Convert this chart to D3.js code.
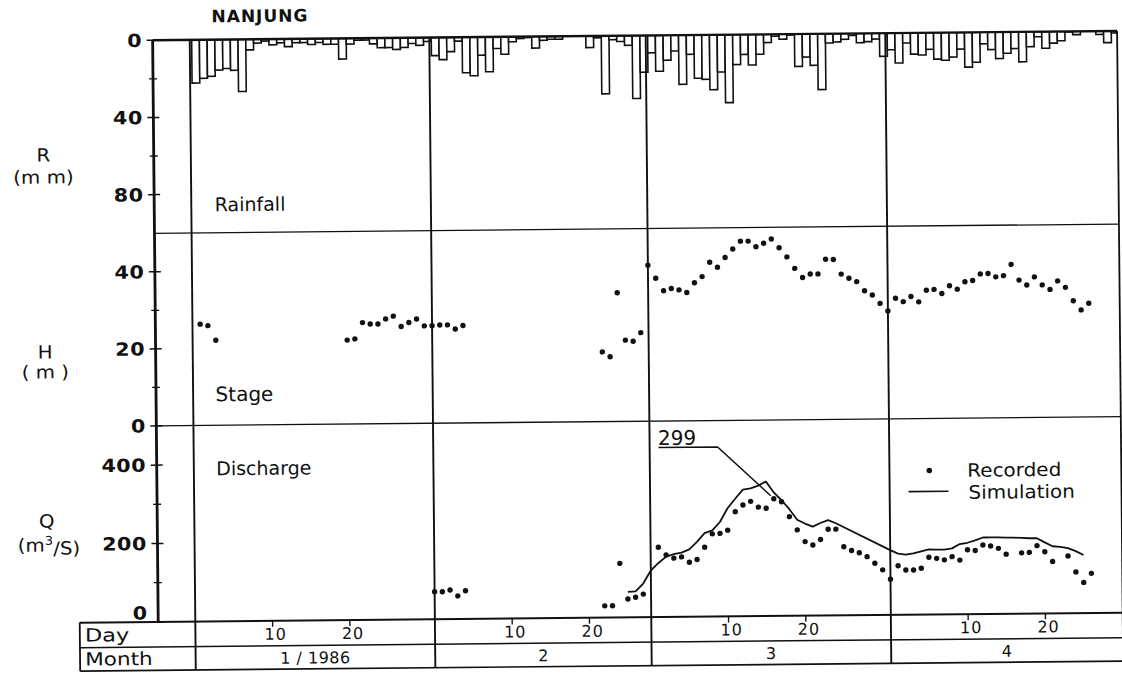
<!DOCTYPE html>
<html>
<head>
<meta charset="utf-8">
<script src="https://cdn.jsdelivr.net/npm/d3@7"></script>
<style>
  html, body { margin: 0; padding: 0; background: #fff; }
  svg { display: block; }
  text { font-family: "DejaVu Sans", sans-serif; fill: #111; }
</style>
</head>
<body>
<svg id="chart" width="1122" height="674"></svg>
<script>
// ---- Nanjung station, January–April 1986 ----

// Daily rainfall R (mm), one value per day of each month
const rainJan = [22.4, 20, 19, 15.8, 15, 16, 27, 5.5, 2, 1, 3, 2, 4, 2, 2, 3, 2, 3, 3, 10.7, 3, 1, 1, 3, 5, 5, 6, 5, 3, 4, 2];
const rainFeb = [9.4, 11.5, 7.4, 2, 18.4, 20, 9.4, 18, 6, 9, 2.6, 1, 0.5, 6, 2, 1.5, 1.5, 0, 0, 0, 6, 1, 30, 2, 3, 5, 32.6, 19];
const rainMar = [9, 18.6, 12.9, 8.2, 25.5, 10, 22.4, 23, 28.4, 19.3, 35.2, 15.5, 10.3, 15.8, 10.3, 4.3, 1, 2.6, 0.5, 16.8, 12, 16.3, 28.9, 4.8, 4.3, 3, 1, 4.8, 4.3, 3, 12];
const rainApr = [8.6, 15.5, 5.2, 11, 11.5, 8.6, 13.7, 14.3, 12.7, 8.6, 18, 15.5, 6, 9, 13.7, 11, 8.6, 15.5, 7.7, 2.6, 8.6, 6, 4.8, 0.3, 1.7, 0, 0, 1.7, 6, 1];

// Daily stage H (m); null = no reading
const _ = null;
const stageJan = [26.3, 25.9, 22.1, _, _, _, _, _, _, _, _, _, _, _, _, _, _, _, _, 21.8, 22.1, 26.3, 25.9, 25.9, 27.2, 27.9, 25.2, 26.2, 27.1, 25.3, 25.3];
const stageFeb = [25.5, 25.5, 24.4, 25.3, _, _, _, _, _, _, _, _, _, _, _, _, _, _, _, _, _, 18.1, 16.8, 33.4, 21.1, 20.8, 23.0, 40.5];
const stageMar = [37.1, 33.8, 34.4, 34.0, 33.3, 35.8, 37.4, 41.1, 39.8, 42.3, 44.5, 46.5, 46.5, 45.0, 45.9, 47.0, 44.7, 42.3, 39.3, 36.9, 37.8, 37.8, 41.6, 41.5, 37.7, 36.6, 35.7, 33.3, 32.2, 30.0, 28.0];
const stageApr = [31.3, 30.4, 31.7, 30.3, 33.3, 33.5, 32.4, 34.4, 33.5, 35.4, 35.7, 37.4, 37.5, 36.6, 36.9, 39.8, 35.7, 34.4, 36.5, 34.4, 33.2, 35.4, 33.7, 30.2, 27.8, 29.5, _, _, _, _];

// Recorded discharge Q (m3/s)
const qJan = [_, _, _, _, _, _, _, _, _, _, _, _, _, _, _, _, _, _, _, _, _, _, _, _, _, _, _, _, _, _, 70];
const qFeb = [70, 74, 59, 72, _, _, _, _, _, _, _, _, _, _, _, _, _, _, _, _, _, 30, 30, 138, 47, 51, 59, _];
const qMar = [178, 158, 150, 153, 139, 146, 177, 211, 212, 220, 267, 284, 293, 278, 275, 299, 291, 253, 219, 189, 180, 194, 220, 220, 175, 165, 159, 149, 132, 115, 91];
const qApr = [125, 114, 114, 118, 146, 143, 139, 147, 138, 164, 162, 176, 173, 167, 152, _, 155, 156, 173, 157, 132, _, 146, 105, 78, 101, _, _, _, _];

// Simulated discharge Q (m3/s)
const simJan = [];
const simFeb = [_, _, _, _, _, _, _, _, _, _, _, _, _, _, _, _, _, _, _, _, _, _, _, _, 65, 66, 86, 119];
const simMar = [138, 154, 160, 164, 172, 191, 213, 220, 241, 276, 300, 323, 326, 333, 343, 315, 295, 272, 245, 235, 227, 236, 243, 235, _, _, _, _, _, _, 165];
const simApr = [156, 153, 156, 161, 166, 165, 165, 168, 179, 182, 188, 195, 195, 195, 194, 194, 193, 192, 192, 181, 171, 169, 166, 158, 148, _, _, _, _, _];

// Calendar and axis labels
const monthStart = [0, 31, 59, 90, 120];     // day offsets from 1 Jan
const monthLabels = ["1 / 1986", "2", "3", "4"];
const dayTicks = [10, 20];
const rainTicks = [0, 40, 80], rainMinor = [20, 60];
const stageTicks = [0, 20, 40], stageMinor = [10, 30];
const qTicks = [0, 200, 400], qMinor = [100, 300];
const peakValue = 299, peakDay = 75;         // labelled recorded peak (16 March)

// Flatten month arrays into {n: day number from 1 Jan, v}
function daily(months) {
  return months.flatMap((arr, m) => arr.map((v, i) => ({ n: monthStart[m] + i + 1, v })))
               .filter(d => d.v != null);
}

// ---- scales ----
const X0 = 155.5, X1 = 1120;
const x = d3.scaleLinear().domain([-4.8, 120]).range([X0, X1]);
const yR = d3.scaleLinear().domain([0, 100]).range([36.3, 229.4]);
const yH = d3.scaleLinear().domain([0, 50]).range([422, 229.4]);
const yQ = d3.scaleLinear().domain([0, 500]).range([618, 422]);
const TOP = yR(0), BOT = yQ(0);
const TB_MID = 643, TB_BOT = 666.5, TB_LEFT = 77;
const INK = "#111";

const svg = d3.select("#chart");
svg.append("defs").append("clipPath").attr("id", "plotClip")
  .append("rect").attr("x", X0).attr("y", TOP).attr("width", X1 - X0).attr("height", yR(100) - TOP);

// the sheet sits very slightly tilted
const root = svg.append("g").attr("transform", "rotate(-0.55 561 337)");

function label(sel, px, py, str, o = {}) {
  const g = sel.append("g").attr("transform", `translate(${px},${py}) scale(${o.sx || 1},1)`);
  return g.append("text")
    .attr("font-size", o.size || 18)
    .attr("font-weight", o.weight || "normal")
    .attr("text-anchor", o.anchor || "start")
    .attr("letter-spacing", o.ls || 0)
    .attr("dy", o.dy || 0)
    .text(str);
}
function hline(x1, x2, y, w) {
  root.append("line").attr("x1", x1).attr("x2", x2).attr("y1", y).attr("y2", y)
    .attr("stroke", INK).attr("stroke-width", w);
}
function vline(xx, y1, y2, w) {
  root.append("line").attr("x1", xx).attr("x2", xx).attr("y1", y1).attr("y2", y2)
    .attr("stroke", INK).attr("stroke-width", w);
}

// ---- rainfall bars hanging from the top edge ----
const rain = daily([rainJan, rainFeb, rainMar, rainApr]).filter(d => d.v > 0);
const off = 0.25;
root.append("g").attr("clip-path", "url(#plotClip)")
  .selectAll("rect").data(rain).join("rect")
  .attr("x", d => x(d.n - 1 + off))
  .attr("width", d => x(d.n + off) - x(d.n - 1 + off))
  .attr("y", yR(0))
  .attr("height", d => yR(d.v) - yR(0))
  .attr("fill", "#fff").attr("stroke", INK).attr("stroke-width", 1.6);

// ---- frame ----
hline(X0, X1, TOP, 2.4);
hline(X0, X1, yR(100), 1.3);
hline(X0, X1, yH(0), 1.3);
hline(TB_LEFT, X1 + 2, BOT, 2);
hline(TB_LEFT, X1 + 2, TB_MID, 1.5);
hline(TB_LEFT, X1 + 2, TB_BOT, 1.7);
vline(X0, TOP, BOT, 2.8);
vline(X1, TOP, TB_BOT, 1.8);
vline(TB_LEFT, BOT, TB_BOT, 1.8);
monthStart.slice(0, 4).forEach(ms => vline(x(ms), TOP, TB_BOT, 1.9));

// day ticks on the bottom edge
monthStart.slice(0, 4).forEach(ms => dayTicks.forEach(d => vline(x(ms + d), BOT, BOT + 6, 1.4)));

// ---- left axis ticks and labels ----
function axisTicks(scale, major, minor) {
  major.forEach(v => hline(X0 - 6, X0 + 6, scale(v), 1.5));
  minor.forEach(v => hline(X0 - 4, X0 + 4, scale(v), 1.3));
}
axisTicks(yR, rainTicks, rainMinor);
axisTicks(yH, stageTicks, stageMinor);
axisTicks(yQ, qTicks, qMinor);

const tickOpts = { size: 18, weight: "bold", anchor: "end", sx: 1.15, dy: "0.36em", ls: 0.5 };
rainTicks.forEach(v => label(root, 145, yR(v), String(v), tickOpts));
stageTicks.forEach(v => label(root, 145, yH(v), String(v), tickOpts));
qTicks.forEach(v => label(root, 145, v === 0 ? yQ(v) - 9 : yQ(v), String(v), tickOpts));

// unit labels
const unitOpts = { size: 18, anchor: "middle", sx: 1.1, dy: "0.36em" };
label(root, 45, 150, "R", unitOpts);
label(root, 45, 172, "(m m)", unitOpts);
label(root, 45, 347, "H", unitOpts);
label(root, 45, 367, "( m )", unitOpts);
label(root, 45, 516, "Q", unitOpts);
const qUnit = label(root, 47, 540, "", unitOpts);
qUnit.append("tspan").text("(m");
qUnit.append("tspan").attr("font-size", 12).attr("dy", "-0.55em").text("3");
qUnit.append("tspan").attr("dy", "0.55em").text("/S)");

// title and panel names
label(root, 263, 19, "NANJUNG", { size: 17, weight: "bold", anchor: "middle", ls: 1 });
label(root, 216, 208, "Rainfall", { size: 19 });
label(root, 215, 398, "Stage", { size: 20 });
label(root, 215, 472, "Discharge", { size: 19 });

// ---- stage dots ----
root.append("g").selectAll("circle").data(daily([stageJan, stageFeb, stageMar, stageApr])).join("circle")
  .attr("cx", d => x(d.n)).attr("cy", d => yH(d.v)).attr("r", 2.7).attr("fill", INK);

// ---- simulated discharge line ----
const sim = daily([simJan, simFeb, simMar, simApr]);
root.append("path").datum(sim)
  .attr("d", d3.line().x(d => x(d.n)).y(d => yQ(d.v)))
  .attr("fill", "none").attr("stroke", INK).attr("stroke-width", 1.8).attr("stroke-linejoin", "round");

// ---- recorded discharge dots ----
root.append("g").selectAll("circle").data(daily([qJan, qFeb, qMar, qApr])).join("circle")
  .attr("cx", d => x(d.n)).attr("cy", d => yQ(d.v)).attr("r", 2.7).attr("fill", INK);

// ---- peak annotation ----
label(root, 657, 446, String(peakValue), { size: 20 });
root.append("path")
  .attr("d", `M657.5,448.5 L716.5,448.5 L${x(peakDay) - 3},${yQ(peakValue) - 3}`)
  .attr("fill", "none").attr("stroke", INK).attr("stroke-width", 1.5);

// ---- legend ----
root.append("circle").attr("cx", 928).attr("cy", 474).attr("r", 2.8).attr("fill", INK);
label(root, 966, 474, "Recorded", { size: 18.5, sx: 1.08, dy: "0.36em" });
hline(907, 947, 495, 1.6);
label(root, 967, 496, "Simulation", { size: 18.5, sx: 1.08, dy: "0.36em" });

// ---- Day / Month table ----
label(root, 82, 637, "Day", { size: 18, sx: 1.25 });
label(root, 82, 661, "Month", { size: 18, sx: 1.2 });
monthStart.slice(0, 4).forEach((ms, i) => {
  dayTicks.forEach(d => label(root, x(ms + d) + 3, 637, String(d), { size: 16, anchor: "middle", ls: 1 }));
  label(root, (x(ms) + x(monthStart[i + 1])) / 2, 661, monthLabels[i], { size: 16, anchor: "middle", ls: 0.5 });
});
</script>
</body>
</html>
